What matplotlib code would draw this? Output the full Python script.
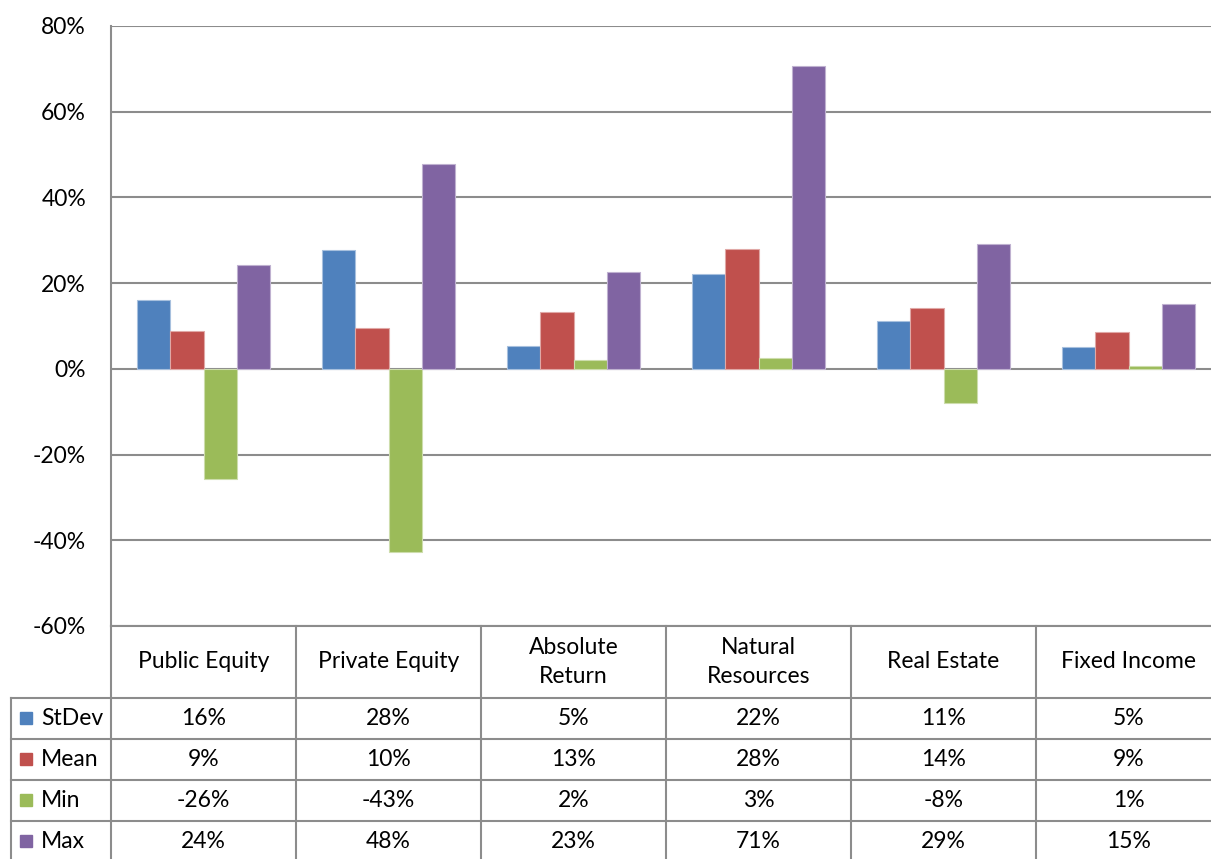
import numpy as np
import matplotlib
matplotlib.use("Agg")
import matplotlib.pyplot as plt
from matplotlib.transforms import blended_transform_factory
from matplotlib.patches import Rectangle

plt.rcParams['font.family'] = ['Lato', 'DejaVu Sans']

# data (percent)
categories = ['Public Equity', 'Private Equity', 'Absolute\nReturn',
              'Natural\nResources', 'Real Estate', 'Fixed Income']
series_names = ['StDev', 'Mean', 'Min', 'Max']
stdev = [16.0, 27.7, 5.3, 22.1, 11.2, 5.1]
mean = [8.9, 9.6, 13.3, 27.9, 14.2, 8.6]
minv = [-25.6, -42.8, 2.1, 2.6, -7.9, 0.6]
maxv = [24.2, 47.9, 22.6, 70.7, 29.2, 15.1]
yticks = [-60, -40, -20, 0, 20, 40, 60, 80]

colors = ['#4F81BD', '#C0504D', '#9BBB59', '#8064A2']
edges = ['#A7C0DE', '#E0A8A6', '#CDDDAC', '#BFB1D0']
grid_c = '#8C8C8C'
fs = 16.5

W, H = 1211, 859
AW = 1110  # plot area runs a bit past the right edge of the image
fig = plt.figure(figsize=(W / 100, H / 100), dpi=100)
ax = fig.add_axes([111 / W, (H - 626) / H, AW / W, 600 / H])

x = np.arange(len(categories))
bw = 0.18
allvals = [stdev, mean, minv, maxv]
for i, vals in enumerate(allvals):
    ax.bar(x + (i - 1.5) * bw, vals, bw, color=colors[i],
           edgecolor=edges[i], linewidth=0.8, zorder=3)

ax.set_xlim(-0.5, len(categories) - 0.5)
ax.set_ylim(-60, 80)
ax.set_yticks(yticks)
ax.set_yticklabels([f'{t}%' for t in yticks], fontsize=fs)
ax.tick_params(axis='y', length=0, pad=18)
ax.set_xticks([])
ax.yaxis.grid(True, color=grid_c, linewidth=1.5, zorder=1)
for s in ['top', 'right', 'bottom']:
    ax.spines[s].set_visible(False)
ax.spines['left'].set_color(grid_c)
ax.spines['left'].set_linewidth(1.5)

# data table under the plot
tr = blended_transform_factory(ax.transData, ax.transAxes)
ta = ax.transAxes
hdr = 72 / 600
row = 41 / 600
leg_left = -100 / AW
bottom = -(H - 626) / 600

# horizontal lines
ax.plot([0, 1], [0, 0], transform=ta, color=grid_c, lw=1.5, clip_on=False)
for r in range(len(series_names)):
    yy = -hdr - r * row
    ax.plot([leg_left, 1], [yy, yy], transform=ta, color=grid_c, lw=1.5,
            clip_on=False)
# vertical lines
for k in range(len(categories)):
    ax.plot([k - 0.5, k - 0.5], [0, bottom], transform=tr, color=grid_c,
            lw=1.5, clip_on=False)
ax.plot([leg_left, leg_left], [-hdr, bottom], transform=ta, color=grid_c,
        lw=1.5, clip_on=False)

# header
for k, c in enumerate(categories):
    ax.text(k, -hdr / 2, c, transform=tr, ha='center', va='center',
            fontsize=fs, linespacing=1.5, clip_on=False)

# rows
for r, (name, vals) in enumerate(zip(series_names, allvals)):
    yc = -hdr - (r + 0.5) * row
    ax.add_patch(Rectangle((leg_left + 9 / AW, yc - 5.5 / 600), 12 / AW,
                           12 / 600, transform=ta, color=colors[r],
                           clip_on=False))
    ax.text(leg_left + 30 / AW, yc, name, transform=ta, ha='left',
            va='center', fontsize=fs, clip_on=False)
    for k, v in enumerate(vals):
        ax.text(k, yc, f'{v:.0f}%', transform=tr, ha='center', va='center',
                fontsize=fs, clip_on=False)

fig.savefig('out.png', dpi=100)
